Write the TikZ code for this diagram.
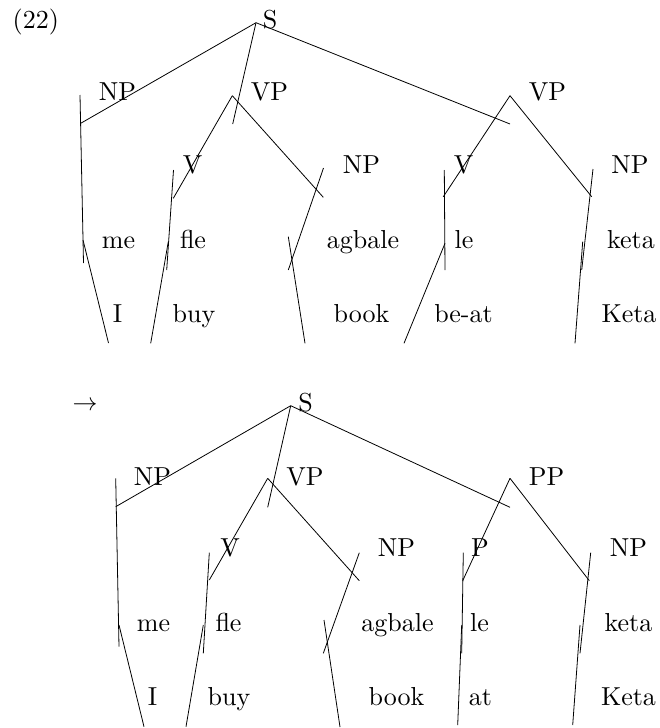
\documentclass[tikz,border=0pt]{standalone}
\usepackage{fontspec}
\setmainfont{lmroman10-regular}[Extension=.otf]
\begin{document}
\begin{tikzpicture}[x=1pt, y=-1pt,
  lbl/.style={font=\fontsize{26}{31}\selectfont, inner sep=0pt, anchor=base},
  branch/.style={draw=black, line width=0.8pt}]
\useasboundingbox (0,0) rectangle (660,728);

% ---------- first tree ----------
\node[lbl] (num) at (35.8,28) {(22)};
\node[lbl] (tS) at (270,28) {S};
\node[lbl] (tNP) at (117.5,100) {NP};
\node[lbl] (tVP) at (269.5,100) {VP};
\node[lbl] (tVPb) at (547.5,100) {VP};
\node[lbl] (tV) at (192.5,173) {V};
\node[lbl] (tNPb) at (361.5,173) {NP};
\node[lbl] (tVb) at (463.5,173) {V};
\node[lbl] (tNPc) at (630,173) {NP};
\node[lbl] (tme) at (118.5,248.3) {me};
\node[lbl] (tfle) at (193,248.3) {fle};
\node[lbl] (tagb) at (363,248.3) {agbale};
\node[lbl] (tle) at (464,248.3) {le};
\node[lbl] (tketa) at (631,248.3) {keta};
\node[lbl] (tI) at (117.5,322) {I};
\node[lbl] (tbuy) at (194,322) {buy};
\node[lbl] (tbook) at (361.5,322) {book};
\node[lbl] (tbeat) at (463.5,322) {be-at};
\node[lbl] (tKeta) at (629,322) {Keta};

\coordinate (ts) at (256,22.7);
\coordinate (tnpA) at (80,95);
\coordinate (tnpJ) at (80.7,123.3);
\coordinate (tnpB) at (83.5,263);
\coordinate (tmeA) at (83,240);
\coordinate (tmeB) at (108.5,343);
\coordinate (tvpE) at (232.7,124);
\coordinate (tvp) at (232.3,95.7);
\coordinate (tvE) at (173.3,198.3);
\coordinate (tvA) at (173.5,170);
\coordinate (tvB) at (166.7,270);
\coordinate (tfleA) at (168.3,241.7);
\coordinate (tfleB) at (150.7,343.3);
\coordinate (tnpbE) at (323.3,197.3);
\coordinate (tnpbA) at (323.5,168);
\coordinate (tnpbB) at (288.3,270);
\coordinate (tagA) at (288.3,236.7);
\coordinate (tagB) at (305,343.3);
\coordinate (tvpbE) at (510,124);
\coordinate (tvpb) at (510,95.7);
\coordinate (tvbE) at (443.3,196.7);
\coordinate (tvbA) at (444.3,170);
\coordinate (tvbB) at (445,270);
\coordinate (tleA) at (445,243.3);
\coordinate (tleB) at (404,343.3);
\coordinate (tnpcE) at (591.7,196.7);
\coordinate (tnpcA) at (593,169);
\coordinate (tnpcB) at (581.7,270);
\coordinate (tkA) at (582.7,241.7);
\coordinate (tkB) at (575,343.3);

\draw[branch] (ts) -- (tnpJ);
\draw[branch] (tnpA) -- (tnpB);
\draw[branch] (tmeA) -- (tmeB);
\draw[branch] (ts) -- (tvpE);
\draw[branch] (tvp) -- (tvE);
\draw[branch] (tvA) -- (tvB);
\draw[branch] (tfleA) -- (tfleB);
\draw[branch] (tvp) -- (tnpbE);
\draw[branch] (tnpbA) -- (tnpbB);
\draw[branch] (tagA) -- (tagB);
\draw[branch] (ts) -- (tvpbE);
\draw[branch] (tvpb) -- (tvbE);
\draw[branch] (tvbA) -- (tvbB);
\draw[branch] (tleA) -- (tleB);
\draw[branch] (tvpb) -- (tnpcE);
\draw[branch] (tnpcA) -- (tnpcB);
\draw[branch] (tkA) -- (tkB);

% ---------- second tree ----------
\node[lbl] (arr) at (85,410) {$\rightarrow$};
\node[lbl] (bS) at (305.5,411.7) {S};
\node[lbl] (bNP) at (152.5,485) {NP};
\node[lbl] (bVP) at (305,485) {VP};
\node[lbl] (bPP) at (546.5,485) {PP};
\node[lbl] (bV) at (230,556.7) {V};
\node[lbl] (bNPb) at (396.5,556.7) {NP};
\node[lbl] (bP) at (480,556.7) {P};
\node[lbl] (bNPc) at (628.5,556.7) {NP};
\node[lbl] (bme) at (153.5,631.7) {me};
\node[lbl] (bfle) at (228.5,631.7) {fle};
\node[lbl] (bagb) at (397.5,631.7) {agbale};
\node[lbl] (ble) at (479.5,631.7) {le};
\node[lbl] (bketa) at (628.5,631.7) {keta};
\node[lbl] (bI) at (152.5,705) {I};
\node[lbl] (bbuy) at (229,705) {buy};
\node[lbl] (bbook) at (396.5,705) {book};
\node[lbl] (bat) at (480.5,705) {at};
\node[lbl] (bKeta) at (628.5,705) {Keta};

\coordinate (bs) at (290.7,405.7);
\coordinate (bnpJ) at (115.7,506.7);
\coordinate (bnpA) at (115.7,478.3);
\coordinate (bnpB) at (119,646.7);
\coordinate (bmeA) at (119,625);
\coordinate (bmeB) at (144,726.7);
\coordinate (bvpE) at (267.7,507.3);
\coordinate (bvp) at (267.7,478.3);
\coordinate (bvE) at (209.3,580);
\coordinate (bvA) at (209.3,552.7);
\coordinate (bvB) at (203.3,653.3);
\coordinate (bfleA) at (203.3,625);
\coordinate (bfleB) at (186,726.7);
\coordinate (bnpbE) at (359.3,580.7);
\coordinate (bnpbA) at (359.3,552.7);
\coordinate (bnpbB) at (323.3,653.3);
\coordinate (bagA) at (324,620);
\coordinate (bagB) at (340,727);
\coordinate (bppE) at (510,507.3);
\coordinate (bpp) at (510,478.3);
\coordinate (bpE) at (462.7,580.7);
\coordinate (bpA) at (463.3,552.7);
\coordinate (bpB) at (461.7,653.3);
\coordinate (bleA) at (461.7,625);
\coordinate (bleB) at (457.7,725);
\coordinate (bnpcE) at (589.3,580.7);
\coordinate (bnpcA) at (590.7,552.7);
\coordinate (bnpcB) at (580,653.3);
\coordinate (bkA) at (580,625);
\coordinate (bkB) at (572.7,725);

\draw[branch] (bs) -- (bnpJ);
\draw[branch] (bnpA) -- (bnpB);
\draw[branch] (bmeA) -- (bmeB);
\draw[branch] (bs) -- (bvpE);
\draw[branch] (bvp) -- (bvE);
\draw[branch] (bvA) -- (bvB);
\draw[branch] (bfleA) -- (bfleB);
\draw[branch] (bvp) -- (bnpbE);
\draw[branch] (bnpbA) -- (bnpbB);
\draw[branch] (bagA) -- (bagB);
\draw[branch] (bs) -- (bppE);
\draw[branch] (bpp) -- (bpE);
\draw[branch] (bpA) -- (bpB);
\draw[branch] (bleA) -- (bleB);
\draw[branch] (bpp) -- (bnpcE);
\draw[branch] (bnpcA) -- (bnpcB);
\draw[branch] (bkA) -- (bkB);
\end{tikzpicture}
\end{document}
